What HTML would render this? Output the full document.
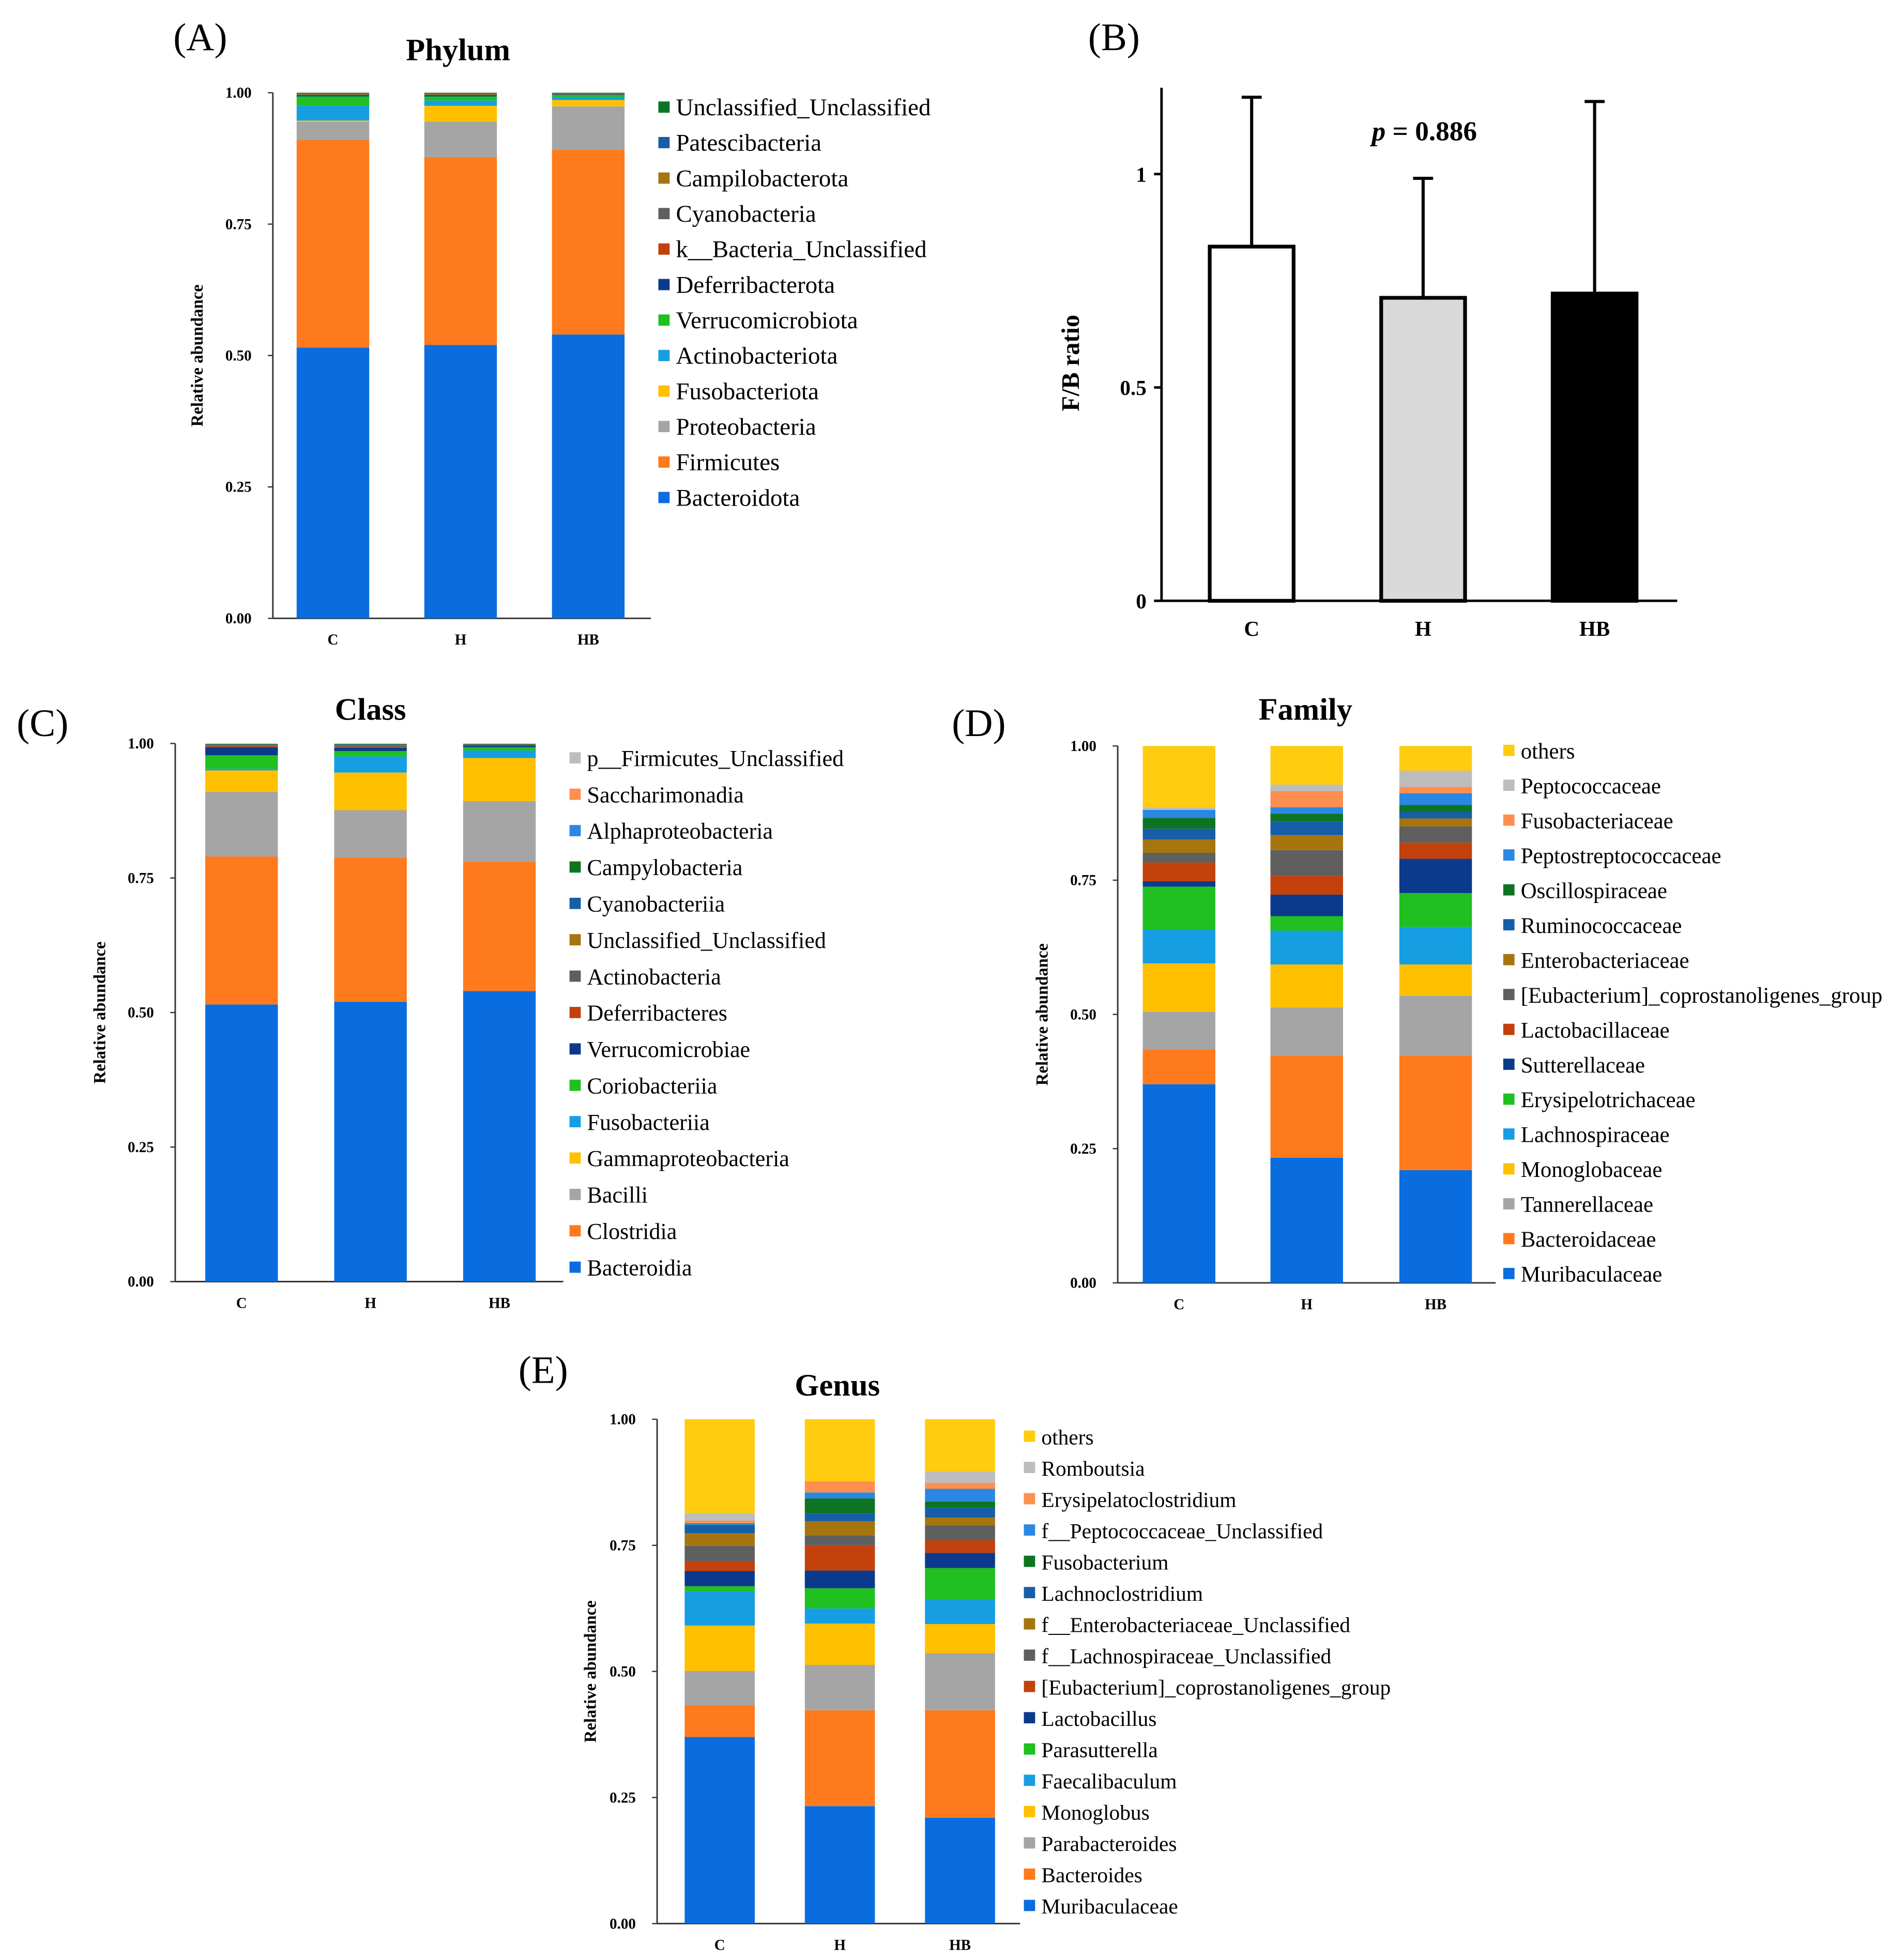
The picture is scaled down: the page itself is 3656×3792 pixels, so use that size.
<!DOCTYPE html>
<html><head><meta charset="utf-8"><style>
html,body{margin:0;padding:0;background:#fff}
svg{display:block}
text{font-family:"Liberation Serif",serif}
</style></head><body>
<svg id="fig" width="3656" height="3792" viewBox="0 0 1510 1566" xmlns="http://www.w3.org/2000/svg"></svg>
<script>
// ---------- DATA ----------
const groups = ["C","H","HB"];
const yTicks = ["0.00","0.25","0.50","0.75","1.00"];
const phylumNames = ["Bacteroidota","Firmicutes","Proteobacteria","Fusobacteriota","Actinobacteriota","Verrucomicrobiota","Deferribacterota","k__Bacteria_Unclassified","Cyanobacteria","Campilobacterota","Patescibacteria","Unclassified_Unclassified"];
const phylumC  = [0.515,0.395,0.035,0.002,0.028,0.018,0.002,0.001,0.001,0.001,0.001,0.001];
const phylumH  = [0.520,0.357,0.068,0.030,0.010,0.008,0.002,0.001,0.001,0.001,0.001,0.001];
const phylumHB = [0.540,0.352,0.082,0.012,0.006,0.004,0.001,0.001,0.001,0.000,0.000,0.001];
const classNames = ["Bacteroidia","Clostridia","Bacilli","Gammaproteobacteria","Fusobacteriia","Coriobacteriia","Verrucomicrobiae","Deferribacteres","Actinobacteria","Unclassified_Unclassified","Cyanobacteriia","Campylobacteria","Alphaproteobacteria","Saccharimonadia","p__Firmicutes_Unclassified"];
const classC  = [0.515,0.275,0.120,0.040,0.003,0.025,0.015,0.002,0.001,0.001,0.001,0.001,0.000,0.000,0.001];
const classH  = [0.520,0.268,0.088,0.070,0.030,0.010,0.006,0.002,0.002,0.001,0.001,0.001,0.000,0.000,0.001];
const classHB = [0.540,0.240,0.113,0.080,0.014,0.006,0.003,0.001,0.001,0.000,0.000,0.001,0.000,0.000,0.001];
const familyNames = ["Muribaculaceae","Bacteroidaceae","Tannerellaceae","Monoglobaceae","Lachnospiraceae","Erysipelotrichaceae","Sutterellaceae","Lactobacillaceae","[Eubacterium]_coprostanoligenes_group","Enterobacteriaceae","Ruminococcaceae","Oscillospiraceae","Peptostreptococcaceae","Fusobacteriaceae","Peptococcaceae","others"];
const familyC  = [0.370,0.065,0.070,0.090,0.063,0.080,0.010,0.035,0.018,0.025,0.020,0.020,0.015,0.000,0.005,0.114];
const familyH  = [0.233,0.190,0.090,0.080,0.063,0.027,0.040,0.035,0.048,0.028,0.025,0.015,0.012,0.030,0.012,0.072];
const familyHB = [0.210,0.213,0.112,0.058,0.070,0.063,0.064,0.030,0.030,0.015,0.012,0.013,0.022,0.012,0.030,0.046];
const genusNames = ["Muribaculaceae","Bacteroides","Parabacteroides","Monoglobus","Faecalibaculum","Parasutterella","Lactobacillus","[Eubacterium]_coprostanoligenes_group","f__Lachnospiraceae_Unclassified","f__Enterobacteriaceae_Unclassified","Lachnoclostridium","Fusobacterium","f__Peptococcaceae_Unclassified","Erysipelatoclostridium","Romboutsia","others"];
const genusC  = [0.370,0.063,0.068,0.090,0.068,0.010,0.030,0.020,0.030,0.025,0.015,0.002,0.003,0.005,0.015,0.186];
const genusH  = [0.233,0.190,0.090,0.082,0.030,0.040,0.035,0.050,0.020,0.028,0.015,0.030,0.012,0.022,0.000,0.123];
const genusHB = [0.210,0.213,0.113,0.058,0.048,0.063,0.030,0.025,0.030,0.015,0.020,0.012,0.025,0.012,0.023,0.103];
const fbValues = [0.83,0.71,0.72];
const fbErrTop = [1.18,0.99,1.17];
const fbTicks = [0,0.5,1];

const pal = {blue:"#0a6ddf",orange:"#ff7a1c",gray:"#a5a5a5",yellow:"#ffc000",lblue:"#169ee3",green:"#1fc01f",navy:"#0b3a8c",rust:"#c2410c",dgray:"#5f5f5f",olive:"#a6750f",mblue:"#165ea8",dgreen:"#0d7424",bblue:"#2a88e4",salmon:"#ff8f4e",lgray:"#bdbdbd",others:"#ffcc0f"};
const phylumCols=[pal.blue,pal.orange,pal.gray,pal.yellow,pal.lblue,pal.green,pal.navy,pal.rust,pal.dgray,pal.olive,pal.mblue,pal.dgreen];
const classCols=[pal.blue,pal.orange,pal.gray,pal.yellow,pal.lblue,pal.green,pal.navy,pal.rust,pal.dgray,pal.olive,pal.mblue,pal.dgreen,pal.bblue,pal.salmon,pal.lgray];
const famCols=[pal.blue,pal.orange,pal.gray,pal.yellow,pal.lblue,pal.green,pal.navy,pal.rust,pal.dgray,pal.olive,pal.mblue,pal.dgreen,pal.bblue,pal.salmon,pal.lgray,pal.others];

const svg=document.getElementById('fig');
const NS="http://www.w3.org/2000/svg";
function el(tag,attrs,parent){const e=document.createElementNS(NS,tag);for(const k in attrs)e.setAttribute(k,attrs[k]);(parent||svg).appendChild(e);return e;}
function txt(s,attrs,parent){const e=el('text',attrs,parent);e.textContent=s;return e;}

function stacked(cfg){
  const g=el('g',{});
  
  
  const yS=v=>cfg.y0-(cfg.y0-cfg.y1)*v;
  const ax=el('line',{x1:cfg.ax,y1:cfg.y1,x2:cfg.ax,y2:cfg.y0,stroke:"#333","stroke-width":1.2},g);
  
  const xa=el('line',{x1:cfg.ax,y1:cfg.y0,x2:cfg.axEnd,y2:cfg.y0,stroke:"#333","stroke-width":1.2},g);
  
  yTicks.forEach((t,i)=>{const y=yS(i/4);
    el('line',{x1:cfg.ax-4,y1:y,x2:cfg.ax,y2:y,stroke:"#333","stroke-width":1},g);
    const tl=txt(t,{x:cfg.ax-17,y:y+4,"font-size":12,"font-weight":"bold","text-anchor":"end"},g);
    });
  const yt=txt("Relative abundance",{x:0,y:0,"font-size":13.5,"font-weight":"bold","text-anchor":"middle",transform:`translate(${cfg.ytx},${(cfg.y0+cfg.y1)/2}) rotate(-90)`},g);
  
  const ti=txt(cfg.title,{x:cfg.tx,y:cfg.ty,"font-size":25,"font-weight":"bold","text-anchor":"middle"},g);
  
  const pl=txt(cfg.label,{x:cfg.lx,y:cfg.ly,"font-size":31,"text-anchor":"middle"},g);
  
  cfg.series.forEach((vals,gi)=>{
    const cx=cfg.centers[gi];let acc=0;
    vals.forEach((v,si)=>{
      if(v<=0)return;
      const r=el('rect',{x:cx-cfg.bw/2,y:yS(acc+v),width:cfg.bw,height:yS(acc)-yS(acc+v),fill:cfg.cols[si]},g);
      
      
      acc+=v;});
    const xl=txt(groups[gi],{x:cx,y:cfg.y0+21,"font-size":12,"font-weight":"bold","text-anchor":"middle"},g);
    
  });
  const n=cfg.names.length;
  for(let k=0;k<n;k++){
    const si=n-1-k;const y=cfg.legY0+k*cfg.legStep;
    const sq=el('rect',{x:cfg.legX,y:y-5,width:9,height:9,fill:cfg.cols[si]},g);
    
    const lt=txt(cfg.names[si],{x:cfg.legX+14,y:y+6,"font-size":cfg.legFont},g);
    
  }
}

stacked({name:'phylum',names:phylumNames,cols:phylumCols,series:[phylumC,phylumH,phylumHB],ax:218,axEnd:520,y0:494,y1:74,centers:[266,368,470],bw:58,ytx:162,title:"Phylum",tx:366,ty:48,label:"(A)",lx:160,ly:40,legX:526,legY0:86,legStep:28.36,legFont:19.4});
stacked({name:'class',names:classNames,cols:classCols,series:[classC,classH,classHB],ax:140,axEnd:450,y0:1024,y1:594,centers:[193,296,399],bw:58,ytx:84,title:"Class",tx:296,ty:575,label:"(C)",lx:34,ly:588,legX:455,legY0:606,legStep:29.07,legFont:18.2});
stacked({name:'family',names:familyNames,cols:famCols,series:[familyC,familyH,familyHB],ax:893,axEnd:1195,y0:1025,y1:596,centers:[942,1044,1147],bw:58,ytx:837,title:"Family",tx:1043,ty:575,label:"(D)",lx:782,ly:588,legX:1201,legY0:600,legStep:27.87,legFont:17.7});
stacked({name:'genus',names:genusNames,cols:famCols,series:[genusC,genusH,genusHB],ax:525,axEnd:815,y0:1537,y1:1134,centers:[575,671,767],bw:56,ytx:476,title:"Genus",tx:669,ty:1115,label:"(E)",lx:434,ly:1105,legX:818,legY0:1148,legStep:25,legFont:17.1});

// ---------- Panel B ----------
(function(){
  const g=el('g',{});
  
  
  const y0=480,perUnit=341,ax=928;
  const yS=v=>y0-perUnit*v;
  const centers=[1000,1137,1274],bw=67;
  const fills=["#ffffff","#d9d9d9","#000000"];
  const a=el('line',{x1:ax,y1:70,x2:ax,y2:y0,stroke:"#000","stroke-width":2},g);
  
  const b=el('line',{x1:ax,y1:y0,x2:1340,y2:y0,stroke:"#000","stroke-width":2},g);
  
  fbTicks.forEach(t=>{const y=yS(t);
    el('line',{x1:ax-6,y1:y,x2:ax,y2:y,stroke:"#000","stroke-width":2},g);
    const l=txt(String(t),{x:ax-12,y:y+6,"font-size":17,"font-weight":"bold","text-anchor":"end"},g);
    });
  fbValues.forEach((v,i)=>{const cx=centers[i];
    const e=el('line',{x1:cx,y1:yS(fbErrTop[i]),x2:cx,y2:yS(v),stroke:"#000","stroke-width":2.5},g);
    
    el('line',{x1:cx-8,y1:yS(fbErrTop[i]),x2:cx+8,y2:yS(fbErrTop[i]),stroke:"#000","stroke-width":2.5},g);
    const r=el('rect',{x:cx-bw/2,y:yS(v),width:bw,height:y0-yS(v),fill:fills[i],stroke:"#000","stroke-width":3},g);
    
    const l=txt(groups[i],{x:cx,y:508,"font-size":17,"font-weight":"bold","text-anchor":"middle"},g);
    });
  const yt=txt("F/B ratio",{x:0,y:0,"font-size":20,"font-weight":"bold","text-anchor":"middle",transform:"translate(862,290) rotate(-90)"},g);
  
  const p=el('text',{x:1138,y:112,"font-size":22,"font-weight":"bold","text-anchor":"middle"},g);
  p.innerHTML='<tspan font-style="italic">p</tspan> = 0.886';
  
  const pl=txt("(B)",{x:890,y:40,"font-size":31,"text-anchor":"middle"},g);
  
})();
</script>
</body></html>
